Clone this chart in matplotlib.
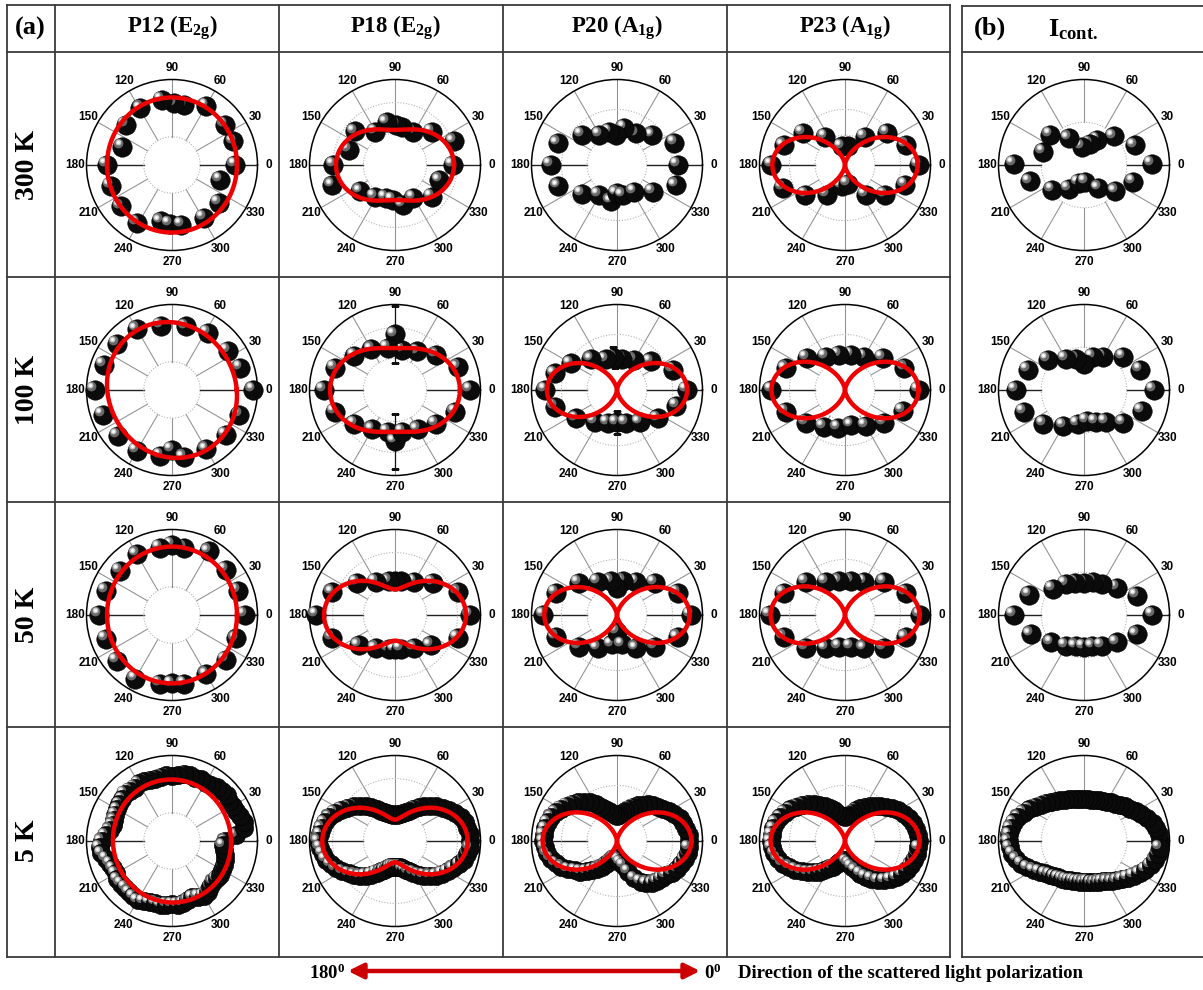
import numpy as np
import matplotlib
matplotlib.use("Agg")
import matplotlib.pyplot as plt
from matplotlib import transforms

plt.rcParams['mathtext.fontset'] = 'custom'
plt.rcParams['mathtext.rm'] = 'Liberation Serif:bold'
plt.rcParams['mathtext.it'] = 'Liberation Serif:bold'
plt.rcParams['mathtext.bf'] = 'Liberation Serif:bold'

W, H = 1203, 990
SERIF = 'Liberation Serif'
SANS = 'Liberation Sans'

# ---------------------------------------------------------------- labels
temps = ['300 K', '100 K', '50 K', '5 K']
modes = ['P12 (E$_{2g}$)', 'P18 (E$_{2g}$)', 'P20 (A$_{1g}$)', 'P23 (A$_{1g}$)']
cont_label = 'I$_{cont.}$'
angle_ticks = [0, 30, 60, 90, 120, 150, 180, 210, 240, 270, 300, 330]

# ---------------------------------------------------------------- data
# polarisation angle (deg) and normalised intensity (radius) of each point
P12_300K_ang = [0, 21, 37, 60, 79, 88, 99, 119, 139, 160, 180, 199, 219, 239, 259, 268, 279, 301, 321, 343]
P12_300K_r = [0.74, 0.77, 0.78, 0.80, 0.71, 0.72, 0.77, 0.76, 0.72, 0.62, 0.76, 0.76, 0.77, 0.79, 0.67, 0.69, 0.71, 0.72, 0.70, 0.59]
P18_300K_ang = [0, 22, 42, 61, 80, 88, 101, 121, 140, 162, 180, 198, 217, 238, 255, 267, 281, 299, 319, 341]
P18_300K_r = [0.68, 0.74, 0.58, 0.44, 0.45, 0.47, 0.51, 0.45, 0.61, 0.57, 0.72, 0.77, 0.51, 0.44, 0.40, 0.41, 0.48, 0.44, 0.57, 0.55]
P20_300K_ang = [0, 21, 40, 59, 79, 91, 103, 120, 139, 160, 180, 200, 219, 239, 261, 270, 281, 303, 323, 341]
P20_300K_r = [0.71, 0.72, 0.54, 0.43, 0.44, 0.35, 0.40, 0.41, 0.54, 0.74, 0.77, 0.73, 0.53, 0.41, 0.43, 0.33, 0.36, 0.37, 0.52, 0.73]
P23_300K_ang = [0, 18, 37, 55, 80, 100, 125, 143, 162, 180, 200, 217, 239, 262, 278, 305, 323, 342]
P23_300K_r = [0.86, 0.75, 0.62, 0.40, 0.22, 0.22, 0.40, 0.62, 0.75, 0.86, 0.77, 0.58, 0.41, 0.25, 0.22, 0.43, 0.58, 0.74]
IC_300K_ang = [1, 21, 44, 62, 74, 96, 120, 138, 162, 179, 197, 218, 237, 254, 275, 302, 320, 341]
IC_300K_r = [0.79, 0.64, 0.48, 0.33, 0.26, 0.21, 0.36, 0.53, 0.50, 0.82, 0.66, 0.47, 0.33, 0.22, 0.20, 0.32, 0.48, 0.61]

P12_100K_ang = [0, 18, 35, 58, 78, 100, 120, 140, 160, 180, 200, 220, 240, 260, 270, 280, 300, 320, 340]
P12_100K_r = [0.95, 0.84, 0.80, 0.79, 0.76, 0.76, 0.82, 0.84, 0.85, 0.90, 0.86, 0.83, 0.82, 0.78, 0.70, 0.80, 0.80, 0.82, 0.84]
P18_100K_ang = [0, 20, 40, 60, 80, 90, 100, 120, 140, 160, 180, 200, 220, 240, 260, 270, 280, 300, 320, 340]
P18_100K_r = [0.88, 0.78, 0.63, 0.52, 0.48, 0.65, 0.50, 0.55, 0.62, 0.75, 0.83, 0.75, 0.62, 0.53, 0.50, 0.60, 0.50, 0.53, 0.62, 0.75]
P20_100K_ang = [0, 20, 40, 60, 80, 95, 110, 130, 150, 165, 180, 195, 215, 235, 255, 270, 285, 305, 325, 345]
P20_100K_r = [0.82, 0.70, 0.52, 0.40, 0.37, 0.38, 0.38, 0.47, 0.62, 0.75, 0.84, 0.75, 0.58, 0.45, 0.40, 0.38, 0.40, 0.46, 0.58, 0.72]
P23_100K_ang = [0, 20, 40, 60, 80, 100, 120, 140, 160, 180, 200, 220, 240, 260, 280, 300, 320, 340]
P23_100K_r = [0.86, 0.74, 0.58, 0.45, 0.42, 0.42, 0.45, 0.58, 0.74, 0.86, 0.74, 0.60, 0.50, 0.45, 0.42, 0.48, 0.60, 0.72]
IC_100K_ang = [0, 20, 40, 60, 75, 90, 105, 120, 140, 160, 180, 200, 220, 240, 260, 275, 290, 305, 320, 340]
IC_100K_r = [0.82, 0.70, 0.60, 0.45, 0.40, 0.30, 0.38, 0.42, 0.55, 0.70, 0.80, 0.75, 0.62, 0.48, 0.40, 0.36, 0.40, 0.45, 0.60, 0.72]

# error bars (radial) on selected 100 K points: (angle, value, error)
P18_100K_err = [(90, 0.65, 0.33), (270, 0.60, 0.32)]
P20_100K_err = [(95, 0.38, 0.12), (270, 0.38, 0.14)]

P12_50K_ang = [0, 20, 40, 60, 80, 90, 100, 120, 140, 160, 180, 200, 220, 240, 260, 270, 280, 300, 320, 340]
P12_50K_r = [0.85, 0.82, 0.82, 0.86, 0.80, 0.82, 0.80, 0.82, 0.80, 0.82, 0.85, 0.82, 0.84, 0.86, 0.82, 0.80, 0.82, 0.80, 0.82, 0.80]
P18_50K_ang = [0, 20, 40, 60, 80, 90, 100, 120, 140, 160, 180, 200, 220, 240, 260, 270, 280, 300, 320, 340]
P18_50K_r = [0.88, 0.78, 0.58, 0.45, 0.40, 0.40, 0.40, 0.45, 0.58, 0.78, 0.92, 0.78, 0.55, 0.45, 0.40, 0.40, 0.40, 0.45, 0.55, 0.78]
P20_50K_ang = [0, 20, 40, 60, 80, 90, 100, 120, 140, 160, 180, 200, 220, 240, 260, 270, 280, 300, 320, 340]
P20_50K_r = [0.86, 0.76, 0.58, 0.45, 0.40, 0.32, 0.40, 0.45, 0.58, 0.76, 0.86, 0.76, 0.58, 0.45, 0.35, 0.20, 0.35, 0.45, 0.58, 0.76]
P23_50K_ang = [0, 20, 40, 60, 80, 100, 120, 140, 160, 180, 200, 220, 240, 260, 280, 300, 320, 340]
P23_50K_r = [0.88, 0.76, 0.60, 0.45, 0.40, 0.40, 0.45, 0.60, 0.76, 0.88, 0.76, 0.60, 0.45, 0.38, 0.38, 0.45, 0.60, 0.76]
IC_50K_ang = [0, 20, 40, 60, 75, 90, 105, 120, 140, 160, 180, 200, 220, 240, 255, 270, 285, 300, 320, 340]
IC_50K_r = [0.80, 0.66, 0.50, 0.42, 0.40, 0.38, 0.39, 0.42, 0.48, 0.68, 0.82, 0.66, 0.50, 0.42, 0.38, 0.37, 0.38, 0.42, 0.50, 0.66]

# 5 K scans were taken in 5 degree steps
ANG_5K = list(range(0, 360, 5))
P12_5K_r = [0.62, 0.75, 0.86, 0.87, 0.85, 0.82, 0.83, 0.82, 0.84, 0.83, 0.82, 0.80, 0.79, 0.80, 0.78, 0.80, 0.80, 0.77,
            0.76, 0.77, 0.76, 0.75, 0.76, 0.77, 0.78, 0.76, 0.77, 0.78, 0.76, 0.75, 0.74, 0.73, 0.72, 0.72, 0.74, 0.78,
            0.82, 0.85, 0.84, 0.80, 0.77, 0.76, 0.76, 0.78, 0.78, 0.77, 0.78, 0.79, 0.80, 0.78, 0.76, 0.75, 0.76, 0.75,
            0.74, 0.75, 0.74, 0.72, 0.70, 0.72, 0.74, 0.73, 0.70, 0.68, 0.68, 0.69, 0.68, 0.67, 0.66, 0.64, 0.62, 0.60]
P18_5K_r = [0.88, 0.88, 0.86, 0.85, 0.82, 0.78, 0.73, 0.68, 0.63, 0.58, 0.53, 0.48, 0.43, 0.39, 0.36, 0.34, 0.32, 0.31,
            0.31, 0.31, 0.32, 0.34, 0.36, 0.39, 0.43, 0.48, 0.53, 0.58, 0.63, 0.68, 0.73, 0.78, 0.82, 0.85, 0.87, 0.88,
            0.90, 0.88, 0.86, 0.84, 0.80, 0.76, 0.71, 0.66, 0.62, 0.58, 0.53, 0.48, 0.43, 0.39, 0.36, 0.33, 0.31, 0.30,
            0.30, 0.30, 0.31, 0.33, 0.36, 0.39, 0.43, 0.48, 0.53, 0.58, 0.63, 0.67, 0.71, 0.75, 0.80, 0.84, 0.86, 0.88]
P20_5K_r = [0.84, 0.84, 0.82, 0.80, 0.78, 0.74, 0.70, 0.66, 0.62, 0.60, 0.56, 0.52, 0.48, 0.44, 0.40, 0.36, 0.33, 0.30,
            0.29, 0.30, 0.33, 0.36, 0.40, 0.44, 0.50, 0.56, 0.60, 0.64, 0.68, 0.72, 0.76, 0.79, 0.82, 0.84, 0.85, 0.86,
            0.86, 0.85, 0.83, 0.80, 0.76, 0.72, 0.66, 0.60, 0.56, 0.50, 0.45, 0.40, 0.35, 0.30, 0.26, 0.22, 0.20, 0.20,
            0.20, 0.22, 0.26, 0.30, 0.38, 0.48, 0.55, 0.60, 0.64, 0.66, 0.68, 0.70, 0.74, 0.78, 0.80, 0.82, 0.84, 0.84]
P23_5K_r = [0.86, 0.86, 0.84, 0.82, 0.80, 0.76, 0.72, 0.67, 0.62, 0.58, 0.54, 0.50, 0.46, 0.42, 0.38, 0.34, 0.31, 0.29,
            0.28, 0.29, 0.31, 0.34, 0.38, 0.42, 0.47, 0.52, 0.57, 0.62, 0.66, 0.70, 0.74, 0.78, 0.81, 0.84, 0.85, 0.86,
            0.87, 0.86, 0.84, 0.81, 0.77, 0.72, 0.67, 0.62, 0.57, 0.52, 0.47, 0.42, 0.37, 0.33, 0.29, 0.26, 0.24, 0.22,
            0.22, 0.24, 0.27, 0.31, 0.36, 0.42, 0.48, 0.54, 0.60, 0.65, 0.70, 0.74, 0.77, 0.80, 0.82, 0.84, 0.85, 0.86]
IC_5K_r = [0.89, 0.88, 0.86, 0.83, 0.79, 0.74, 0.70, 0.66, 0.63, 0.60, 0.57, 0.55, 0.53, 0.52, 0.51, 0.50, 0.49, 0.49,
           0.49, 0.49, 0.50, 0.51, 0.52, 0.53, 0.55, 0.57, 0.60, 0.63, 0.66, 0.70, 0.74, 0.78, 0.82, 0.85, 0.87, 0.88,
           0.88, 0.87, 0.85, 0.82, 0.78, 0.73, 0.68, 0.63, 0.59, 0.56, 0.54, 0.52, 0.51, 0.50, 0.49, 0.48, 0.48, 0.48,
           0.48, 0.48, 0.49, 0.50, 0.51, 0.52, 0.54, 0.57, 0.60, 0.63, 0.67, 0.71, 0.75, 0.79, 0.83, 0.86, 0.88, 0.89]

# fitted Raman tensor model: r = c + a * cos^2(theta - phi); (c, a, phi)
FIT_P12 = [(0.76, 0.03, 90), (0.74, 0.07, 120), (0.76, 0.04, 90), (0.69, 0.03, 100)]
FIT_P18 = [(0.41, 0.28, 0), (0.49, 0.27, 0), (0.30, 0.53, 0), (0.25, 0.60, 0)]
FIT_P20 = [None, (0.0, 0.82, 0), (0.0, 0.85, 0), (0.0, 0.87, 0)]
FIT_P23 = [(0.0, 0.85, 0), (0.0, 0.86, 0), (0.0, 0.87, 0), (0.0, 0.87, 0)]

points = [
    [(P12_300K_ang, P12_300K_r), (P18_300K_ang, P18_300K_r), (P20_300K_ang, P20_300K_r), (P23_300K_ang, P23_300K_r), (IC_300K_ang, IC_300K_r)],
    [(P12_100K_ang, P12_100K_r), (P18_100K_ang, P18_100K_r), (P20_100K_ang, P20_100K_r), (P23_100K_ang, P23_100K_r), (IC_100K_ang, IC_100K_r)],
    [(P12_50K_ang, P12_50K_r), (P18_50K_ang, P18_50K_r), (P20_50K_ang, P20_50K_r), (P23_50K_ang, P23_50K_r), (IC_50K_ang, IC_50K_r)],
    [(ANG_5K, P12_5K_r), (ANG_5K, P18_5K_r), (ANG_5K, P20_5K_r), (ANG_5K, P23_5K_r), (ANG_5K, IC_5K_r)],
]
fits = [FIT_P12, FIT_P18, FIT_P20, FIT_P23, [None] * 4]
errors = {(1, 1): P18_100K_err, (1, 2): P20_100K_err}

# ---------------------------------------------------------------- layout (pixels)
col_x = [172, 395, 617, 845, 1084]
row_y = [165, 390, 615, 841]
R = 85.5
inner_ring = [0.33, 0.37, 0.35, 0.35, 0.50]
mid_ring = [None, 0.73, 0.65, 0.65, None]

fig = plt.figure(figsize=(W / 100, H / 100), dpi=100)
bg = fig.add_axes([0, 0, 1, 1])
bg.set_xlim(0, W)
bg.set_ylim(H, 0)
bg.axis('off')

LINE = dict(color='#3a3a3a', lw=1.3)
# table (a)
xa = [7, 55, 279, 503, 727, 950]
ya = [5, 52, 277, 502, 727, 957]
for x in xa:
    bg.plot([x, x], [ya[0], ya[-1]], **LINE)
for y in ya:
    bg.plot([xa[0], xa[-1]], [y, y], **LINE)
# panel (b)
bg.plot([962, 962], [6, 957], **LINE)
bg.plot([962, W], [6, 6], **LINE)
bg.plot([962, W], [52, 52], **LINE)
bg.plot([962, W], [957, 957], **LINE)

bg.text(30, 28, '(a)', family=SERIF, weight='bold', fontsize=19, ha='center', va='center')
bg.text(990, 28, '(b)', family=SERIF, weight='bold', fontsize=19, ha='center', va='center')
for x, m in zip(col_x[:4], modes):
    bg.text(x, 28, m, family=SERIF, weight='bold', fontsize=16.5, ha='center', va='center')
bg.text(1073, 30, cont_label, family=SERIF, weight='bold', fontsize=19, ha='center', va='center')
for y, t in zip(row_y, temps):
    bg.text(28, y, t, family=SERIF, weight='bold', fontsize=20, ha='center', va='center', rotation=90)

# bottom arrow and caption
bg.annotate('', xy=(700, 971), xytext=(348, 971),
            arrowprops=dict(arrowstyle='<|-|>,head_length=0.9,head_width=0.45', color='#cc0000',
                            lw=3.2, shrinkA=0, shrinkB=0))
bg.text(345, 973, '180$^{0}$', family=SERIF, weight='bold', fontsize=13.5, ha='right', va='center')
bg.text(704, 973, '0$^{0}$', family=SERIF, weight='bold', fontsize=13.5, ha='left', va='center')
bg.text(738, 973, 'Direction of the scattered light polarization', family=SERIF, weight='bold',
        fontsize=13.5, ha='left', va='center')

full = np.linspace(0, 2 * np.pi, 721)


def sphere_points(ax, ang, rad, ms):
    th = np.deg2rad(ang)
    hi1 = transforms.offset_copy(ax.transData, fig=fig, x=-ms * 0.2, y=ms * 0.2, units='points')
    hi2 = transforms.offset_copy(ax.transData, fig=fig, x=-ms * 0.24, y=ms * 0.24, units='points')
    z = 3.0
    for t, r in zip(th, rad):
        ax.plot([t], [r], 'o', ms=ms, color='#0b0b0b', mec='#000000', mew=0.4, zorder=z, clip_on=False)
        ax.plot([t], [r], 'o', ms=ms * 0.5, color='#6a6a6a', mew=0, zorder=z + 0.001,
                transform=hi1, clip_on=False)
        ax.plot([t], [r], 'o', ms=ms * 0.3, color='#c8c8c8', mew=0, zorder=z + 0.002,
                transform=hi2, clip_on=False)
        ax.plot([t], [r], 'o', ms=ms * 0.15, color='#ffffff', mew=0, zorder=z + 0.003,
                transform=hi2, clip_on=False)
        z += 0.01


for i, cy in enumerate(row_y):
    for j, cx in enumerate(col_x):
        ax = fig.add_axes([(cx - R) / W, 1 - (cy + R) / H, 2 * R / W, 2 * R / H], projection='polar')
        ax.set_ylim(0, 1)
        ax.set_yticks([])
        ax.set_xticks(np.deg2rad(angle_ticks))
        ax.set_xticklabels([str(a) for a in angle_ticks], fontsize=8.5, fontweight='bold', family=SANS)
        ax.tick_params(axis='x', pad=1.0, length=0)
        ax.grid(False)
        ax.spines['polar'].set_linewidth(1.1)
        ax.patch.set_alpha(0)
        r0 = inner_ring[j]
        for a in angle_ticks:
            dark = a in (0, 180)
            ax.plot([np.deg2rad(a)] * 2, [r0, 1], color='#222222' if dark else '#8f8f8f',
                    lw=1.0 if dark else 0.75, zorder=1)
        ax.plot(full, np.full_like(full, r0), ls=(0, (1, 1.5)), color='#b4b4b4', lw=0.8, zorder=1)
        if mid_ring[j] is not None:
            ax.plot(full, np.full_like(full, mid_ring[j]), ls=(0, (1, 1.5)), color='#b4b4b4', lw=0.8, zorder=1)
        if (i, j) in errors:
            for a, v, e in errors[(i, j)]:
                ax.errorbar([np.deg2rad(a)], [v], yerr=[e], fmt='none', ecolor='#111111',
                            elinewidth=0.9, capsize=3, capthick=0.9, zorder=2)
        ang, rad = points[i][j]
        sphere_points(ax, ang, rad, ms=13.2 if i == 3 else 14)
        f = fits[j][i]
        if f is not None:
            c, a, phi = f
            ax.plot(full, c + a * np.cos(full - np.deg2rad(phi)) ** 2, color='#ee0000', lw=3.2, zorder=10)
        ax.set_ylim(0, 1)

fig.savefig('out.png', dpi=100)
